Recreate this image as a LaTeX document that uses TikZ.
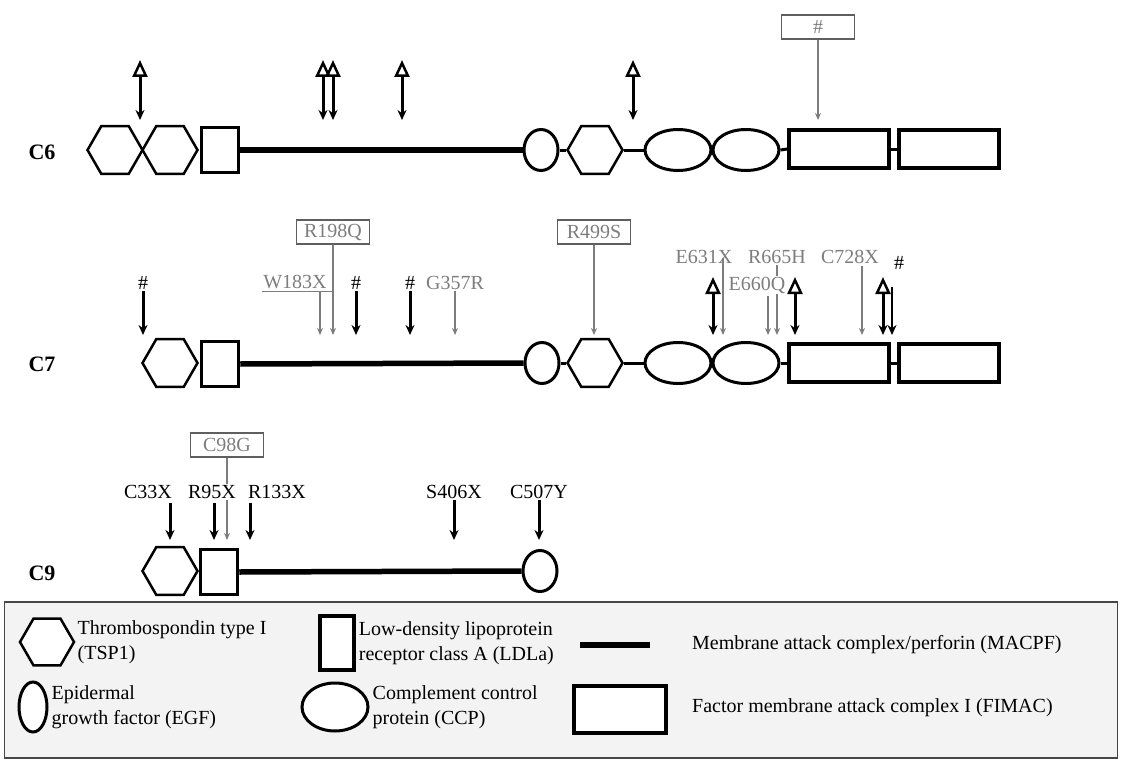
\documentclass[tikz,border=0pt]{standalone}
\usepackage{fontspec}
\setmainfont{Liberation Serif}
\usepackage{tikz}
\usetikzlibrary{arrows.meta,positioning,shapes.geometric}
\definecolor{mutgray}{RGB}{125,125,125}
\definecolor{boxgray}{RGB}{95,95,95}
\definecolor{legendfill}{RGB}{243,243,243}
\definecolor{legendline}{RGB}{70,70,70}
\newcommand{\mutfont}{\fontsize{20}{22}\selectfont}
\newcommand{\rowfont}{\fontsize{22}{24}\selectfont\bfseries}
\newcommand{\legfont}{\fontsize{20}{25}\selectfont}
\tikzset{
  tsp/.style={draw, fill=white, line width=2.5pt, regular polygon, regular polygon sides=6,
              minimum size=55pt, inner sep=0pt},
  ldla/.style={draw, fill=white, line width=3.5pt, minimum width=37pt, minimum height=45pt, inner sep=0pt},
  egf/.style={draw, fill=white, ellipse, line width=3pt, minimum width=34pt, minimum height=41pt, inner sep=0pt},
  ccp/.style={draw, fill=white, ellipse, line width=3pt, minimum width=66pt, minimum height=41pt, inner sep=0pt},
  fimac/.style={draw, fill=white, line width=4pt, minimum width=100pt, minimum height=38pt, inner sep=0pt},
  macpf/.style={line width=5.5pt},
  link/.style={line width=3pt},
  hit/.style={-{Stealth[length=10pt,width=9pt]}, line width=3pt},
  hitgray/.style={-{Stealth[length=7pt,width=6pt]}, line width=1.6pt, draw=mutgray},
  grayline/.style={line width=1.6pt, draw=mutgray},
  tri/.style={{Triangle[open,length=17pt,width=15pt,line width=2.5pt]}-{Stealth[length=10pt,width=9pt]},
              line width=3pt},
  mut/.style={font=\mutfont, inner sep=1pt},
  mutgraytext/.style={mut, text=mutgray},
  mutbox/.style={draw=boxgray, line width=1.2pt, text=mutgray, font=\mutfont,
                 minimum width=73pt, minimum height=24pt, inner sep=1pt},
  rowlabel/.style={font=\rowfont},
  legtext/.style={font=\legfont, align=left, inner sep=0pt}
}
\begin{document}
\begin{tikzpicture}[x=1pt, y=-1pt]
  \useasboundingbox (0,0) rectangle (1122,760);
  \coordinate (c6tip) at (0,120);
  \coordinate (c7tip) at (0,335);
  \coordinate (c9tip) at (0,540);

  % C6
  \node[rowlabel] (c6) at (42,152) {C6};
  \node[tsp] (c6tspa) at (115,150) {};
  \node[tsp] (c6tspb) at (170,150) {};
  \node[ldla] (c6ldla) at (220,150) {};
  \node[egf] (c6egf) at (541,150) {};
  \node[tsp] (c6tspc) at (595,150) {};
  \node[ccp] (c6ccpa) at (678,150) {};
  \node[ccp] (c6ccpb) at (746,150) {};
  \node[fimac] (c6fima) at (839,149) {};
  \node[fimac] (c6fimb) at (949,149) {};
  \draw[macpf] (c6ldla.east) -- (c6egf.west);
  \draw[link] (c6egf.east) -- (c6tspc.west);
  \draw[link] (c6tspc.east) -- (c6ccpa.west);
  \draw[link] (c6ccpb.east) -- (c6fima.west);
  \draw[link] (c6fima.east) -- (c6fimb.west);
  \foreach \x [count=\i] in {140,323,333,402,633} {
    \coordinate (c6t\i) at (\x,60);
    \draw[tri] (c6t\i) -- (c6t\i |- c6tip);
  }
  \node[mutbox] (c6hash) at (818,27) {\#};
  \draw[hitgray] (c6hash.south) -- (c6hash.south |- c6tip);

  % C7
  \node[rowlabel] (c7) at (42,364) {C7};
  \node[tsp] (c7tspa) at (170,363) {};
  \node[ldla] (c7ldla) at (220,364) {};
  \node[egf] (c7egf) at (542,363) {};
  \node[tsp] (c7tspb) at (595,363) {};
  \node[ccp] (c7ccpa) at (678,363) {};
  \node[ccp] (c7ccpb) at (746,363) {};
  \node[fimac] (c7fima) at (839,363) {};
  \node[fimac] (c7fimb) at (949,363) {};
  \draw[macpf] (c7ldla.east) -- (c7egf.west);
  \draw[link] (c7egf.east) -- (c7tspb.west);
  \draw[link] (c7tspb.east) -- (c7ccpa.west);
  \draw[link] (c7ccpb.east) -- (c7fima.west);
  \draw[link] (c7fima.east) -- (c7fimb.west);
  \node[mut] (c7h1) at (143,283) {\#};
  \node[mut] (c7h2) at (356,283) {\#};
  \node[mut] (c7h3) at (410,283) {\#};
  \node[mut] (c7h4) at (899,263) {\#};
  \draw[hit] (c7h1.south) -- (c7h1.south |- c7tip);
  \draw[hit] (c7h2.south) -- (c7h2.south |- c7tip);
  \draw[hit] (c7h3.south) -- (c7h3.south |- c7tip);
  \coordinate (c7h4a) at (892,287);
  \draw[hit, line width=2.5pt] (c7h4a) -- (c7h4a |- c7tip);
  \node[mutbox] (r198q) at (333,232) {R198Q};
  \node[mutbox] (r499s) at (594,232) {R499S};
  \draw[hitgray] (r198q.south) -- (r198q.south |- c7tip);
  \draw[hitgray] (r499s.south) -- (r499s.south |- c7tip);
  \node[mutgraytext, inner ysep=2.5pt] (w183x) at (295,282) {W183X};
  \coordinate (w183xa) at (320,292);
  \draw[grayline] (w183x.south west) -- (w183x.south west -| r198q.south);
  \draw[hitgray] (w183xa) -- (w183xa |- c7tip);
  \node[mutgraytext] (g357r) at (455,283) {G357R};
  \draw[hitgray] (g357r.south) -- (g357r.south |- c7tip);
  \node[mutgraytext] (e631x) at (704,257) {E631X};
  \node[mutgraytext] (r665h) at (777,257) {R665H};
  \node[mutgraytext] (e660q) at (757,285) {E660Q};
  \node[mutgraytext] (c728x) at (850,257) {C728X};
  \coordinate (e631xa) at (723,258);
  \coordinate (e660qa) at (768,296);
  \coordinate (c728xa) at (862,266);
  \draw[hitgray] (e631xa) -- (e631xa |- c7tip);
  \draw[grayline] (r665h.south) -- (r665h.south |- e660q.north);
  \draw[hitgray] (r665h.south |- e660q.south) -- (r665h.south |- c7tip);
  \draw[hitgray] (e660qa) -- (e660qa |- c7tip);
  \draw[hitgray] (c728xa) -- (c728xa |- c7tip);
  \foreach \x [count=\i] in {713,795,883} {
    \coordinate (c7t\i) at (\x,277);
    \draw[tri] (c7t\i) -- (c7t\i |- c7tip);
  }

  % C9
  \node[rowlabel] (c9) at (42,573) {C9};
  \node[tsp] (c9tsp) at (170,571) {};
  \node[ldla] (c9ldla) at (219,572) {};
  \node[egf] (c9egf) at (540,571) {};
  \draw[macpf] (c9ldla.east) -- (c9egf.west);
  \node[mut] (c33x) at (148,492) {C33X};
  \node[mut] (r95x) at (212,492) {R95X};
  \node[mut] (r133x) at (277,492) {R133X};
  \node[mut] (s406x) at (454,492) {S406X};
  \node[mut] (c507y) at (539,492) {C507Y};
  \coordinate (c33xa) at (170,503);
  \coordinate (r95xa) at (214,503);
  \coordinate (r133xa) at (250,503);
  \draw[hit] (c33xa) -- (c33xa |- c9tip);
  \draw[hit] (r95xa) -- (r95xa |- c9tip);
  \draw[hit] (r133xa) -- (r133xa |- c9tip);
  \draw[hit] (s406x.south) -- (s406x.south |- c9tip);
  \draw[hit] (c507y.south) -- (c507y.south |- c9tip);
  \node[mutbox] (c98g) at (227,445) {C98G};
  \draw[grayline] (c98g.south) -- (c98g.south |- r95x.north);
  \draw[hitgray] (c98g.south |- r95x.south) -- (c98g.south |- c9tip);

  % legend
  \node[draw=legendline, fill=legendfill, line width=1.2pt, minimum width=1113pt,
        minimum height=156pt, inner sep=0pt] (legend) at (561,680) {};
  \node[tsp, minimum size=54pt] (lgtsp) at (47,642) {};
  \node[legtext, right=2pt of lgtsp] (lgtspt) {Thrombospondin type I\\(TSP1)};
  \node[ldla, minimum height=54pt, minimum width=34pt] (lgldla) at (337,643) {};
  \node[legtext, right=3pt of lgldla] (lgldlat) {Low-density lipoprotein\\receptor class A (LDLa)};
  \coordinate (lgmacpfa) at (580,645);
  \coordinate (lgmacpfb) at (650,645);
  \draw[macpf, line width=6pt] (lgmacpfa) -- (lgmacpfb);
  \node[legtext, anchor=west] (lgmacpft) at (692,645) {Membrane attack complex/perforin (MACPF)};
  \node[egf, minimum width=28pt, minimum height=50pt] (lgegf) at (33,707) {};
  \node[legtext, right=3pt of lgegf] (lgegft) {Epidermal\\growth factor (EGF)};
  \node[ccp, minimum height=48pt] (lgccp) at (335,707) {};
  \node[legtext, right=3pt of lgccp] (lgccpt) {Complement control\\protein (CCP)};
  \node[fimac, minimum width=92pt, minimum height=47pt] (lgfimac) at (620,709) {};
  \node[legtext, anchor=west] (lgfimact) at (692,708) {Factor membrane attack complex I (FIMAC)};
\end{tikzpicture}
\end{document}
